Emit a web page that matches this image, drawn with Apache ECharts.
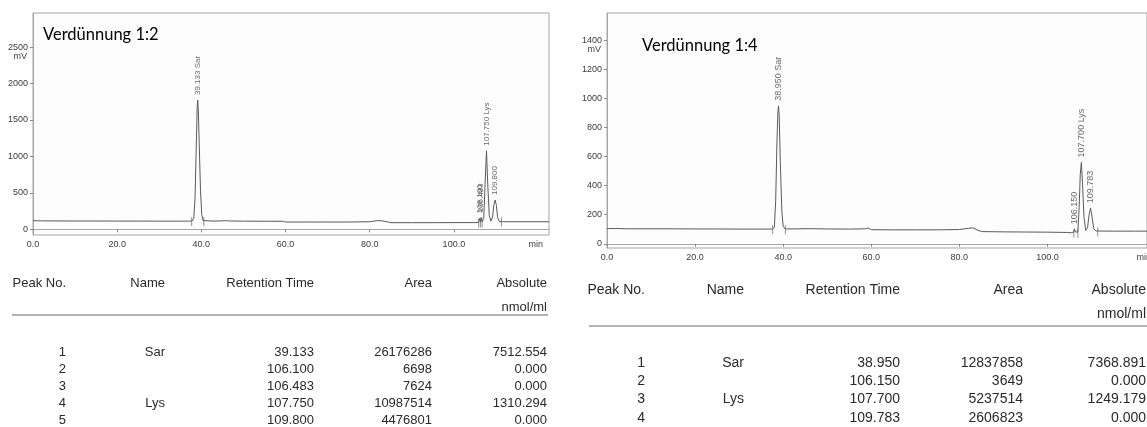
<!DOCTYPE html>
<html>
<head>
<meta charset="utf-8">
<script src="https://cdn.jsdelivr.net/npm/echarts@6/dist/echarts.min.js"></script>
<style>
html, body { margin: 0; padding: 0; background: #fff; overflow: hidden; }
#c { width: 1147px; height: 427px; }
</style>
</head>
<body>
<div id="c"></div>
<script>
// ---- Chromatogram traces: [time (min), signal (mV)] ----
const trace12 = [
  [0,118],[1,117],[2,116],[5,115],[10,114],[15,114],[20,113],[25,113],[30,112],[35,112],[37,112],
  [37.8,114],[38.2,150],[38.5,430],[38.8,1160],[39.0,1660],[39.133,1773],[39.3,1610],[39.5,1160],
  [39.8,530],[40.1,200],[40.4,120],[40.8,113],[43,113],[46,118],[47,114],[50,112],[55,111],[59.5,110],
  [60,100],[65,100],[70,100],[75,100],[80,104],[82,120],[83,116],[84.5,98],[85,91],[90,91],[95,91],
  [100,92],[105,92],[105.8,94],[106.1,150],[106.3,100],[106.483,165],[106.7,104],[107.1,150],[107.4,610],
  [107.75,1078],[108.05,610],[108.4,190],[108.8,112],[109.2,170],[109.5,340],[109.8,402],[110.1,330],
  [110.4,160],[110.8,108],[111.5,104],[115,104],[120,104],[122.6,104]
];
const trace14 = [
  [0,104],[2,105],[5,103],[10,103],[15,103],[20,102],[25,102],[30,101],[35,101],[37.5,101],
  [38.0,112],[38.3,300],[38.6,720],[38.8,910],[38.95,949],[39.1,880],[39.35,560],[39.7,220],[40.0,120],
  [40.4,103],[41,102],[46,104],[50,102],[55,101],[58.5,103],[59.3,108],[60,97],[65,96],[70,96],[75,96],
  [80,98],[82,106],[83,110],[84,96],[85,84],[90,82],[95,81],[100,80],[104.5,78],[105.5,76],[106.0,82],
  [106.15,100],[106.4,80],[106.9,82],[107.2,250],[107.45,480],[107.7,560],[107.95,420],[108.3,180],
  [108.7,92],[109.1,110],[109.45,200],[109.783,245],[110.1,190],[110.5,105],[111,88],[115,87],[120,87],[122.6,87]
];

// ---- Integration markers (peak start / end) ----
const marks12 = [[37.7,108],[40.6,108],[105.9,86],[106.3,86],[106.7,86],[111.3,100]];
const marks14 = [[37.6,96],[40.5,96],[106.0,72],[106.9,72],[111.4,82]];

// ---- Peak tables ----
const peakNo12 = ['1','2','3','4','5'];
const name12   = ['Sar','','','Lys',''];
const rt12     = ['39.133','106.100','106.483','107.750','109.800'];
const area12   = ['26176286','6698','7624','10987514','4476801'];
const abs12    = ['7512.554','0.000','0.000','1310.294','0.000'];

const peakNo14 = ['1','2','3','4'];
const name14   = ['Sar','','Lys',''];
const rt14     = ['38.950','106.150','107.700','109.783'];
const area14   = ['12837858','3649','5237514','2606823'];
const abs14    = ['7368.891','0.000','1249.179','0.000'];

// ---- Axis ticks ----
const xTicks   = [0,20,40,60,80,100];
const yTicks12 = [0,500,1000,1500,2000,2500];
const yTicks14 = [0,200,400,600,800,1000,1200,1400];

const headers = ['Peak No.','Name','Retention Time','Area','Absolute'];
const unitText = 'nmol/ml';

// Peak apex labels: retention time (+ name) placed on the trace value at that time
function apexPoints(trace, rts, names) {
  return rts.map((r, i) => {
    const t = parseFloat(r);
    const p = trace.find(d => d[0] === t);
    return [t, p ? p[1] : 0, names[i] ? r + ' ' + names[i] : r];
  });
}

const chart = echarts.init(document.getElementById('c'), null, { renderer: 'canvas' });

const axisFont = { fontFamily: 'Liberation Sans', fontSize: 9, color: '#3a3a3a' };
const frameColor = '#a6a6a6';

function xAxisCfg(gi) {
  return {
    type: 'value', gridIndex: gi, min: 0, max: 122.6,
    axisLine: { show: true, lineStyle: { color: frameColor } },
    axisTick: { show: true, length: 3, customValues: xTicks, lineStyle: { color: '#888' } },
    axisLabel: Object.assign({ customValues: xTicks, margin: 5, formatter: v => v.toFixed(1) }, axisFont),
    splitLine: { show: false }
  };
}
function yAxisCfg(gi, min, max, ticks) {
  return {
    type: 'value', gridIndex: gi, min: min, max: max,
    axisLine: { show: true, lineStyle: { color: frameColor } },
    axisTick: { show: true, length: 3, customValues: ticks, lineStyle: { color: '#888' } },
    axisLabel: Object.assign({ customValues: ticks, margin: 5, formatter: v => String(v) }, axisFont),
    splitLine: { show: false }
  };
}

function traceSeries(gi, data) {
  return {
    type: 'line', xAxisIndex: gi, yAxisIndex: gi, data: data, showSymbol: false, smooth: false,
    lineStyle: { color: '#5a5a5a', width: 1 }, silent: true, animation: false
  };
}
function markSeries(gi, data) {
  return {
    type: 'scatter', xAxisIndex: gi, yAxisIndex: gi, data: data, symbol: 'rect',
    symbolSize: [1, 9], itemStyle: { color: '#777' }, silent: true, animation: false
  };
}
function labelSeries(gi, data, fontSize) {
  return {
    type: 'scatter', xAxisIndex: gi, yAxisIndex: gi, data: data, symbolSize: 0, silent: true,
    animation: false,
    label: {
      show: true, position: 'top', distance: 5, rotate: 90, align: 'left', verticalAlign: 'middle',
      formatter: p => p.data[2], fontFamily: 'Liberation Sans', fontSize: fontSize, color: '#444'
    }
  };
}

// Table drawn as graphic text elements
function tableGraphics(L, rows) {
  const els = [];
  const font = L.fontSize + 'px "Liberation Sans", Arial, sans-serif';
  const colX = L.colX;
  headers.forEach((h, i) => {
    els.push({ type: 'text', x: colX[i], y: L.headerY,
      style: { text: h, font: font, fill: '#2a2a2a', align: 'right', verticalAlign: 'middle' } });
  });
  els.push({ type: 'text', x: colX[4], y: L.unitY,
    style: { text: unitText, font: font, fill: '#2a2a2a', align: 'right', verticalAlign: 'middle' } });
  els.push({ type: 'line', shape: { x1: L.lineX0, y1: L.lineY, x2: L.lineX1, y2: L.lineY },
    style: { stroke: '#b4b4b4', lineWidth: 2 } });
  rows[0].forEach((_, r) => {
    rows.forEach((col, c) => {
      if (!col[r]) return;
      els.push({ type: 'text', x: colX[c], y: L.rowY0 + r * L.rowStep,
        style: { text: col[r], font: font, fill: '#2a2a2a', align: 'right', verticalAlign: 'middle' } });
    });
  });
  return els;
}

const option = {
  animation: false,
  backgroundColor: '#ffffff',
  title: [
    { text: 'Verdünnung 1:2', left: 38, top: 21,
      textStyle: { fontFamily: 'Lato', fontSize: 16.5, fontWeight: 'normal', color: '#000' } },
    { text: 'Verdünnung 1:4', left: 637, top: 32,
      textStyle: { fontFamily: 'Lato', fontSize: 16.5, fontWeight: 'normal', color: '#000' } }
  ],
  grid: [
    { left: 33, top: 13, width: 516, height: 222, show: true, borderColor: frameColor, borderWidth: 1, backgroundColor: '#fdfdfd' },
    { left: 607, top: 13, width: 550, height: 235, show: true, borderColor: frameColor, borderWidth: 1, backgroundColor: '#fdfdfd' }
  ],
  xAxis: [xAxisCfg(0), xAxisCfg(1)],
  yAxis: [yAxisCfg(0, -78, 2967, yTicks12), yAxisCfg(1, -29, 1588, yTicks14)],
  series: [
    traceSeries(0, trace12), markSeries(0, marks12), labelSeries(0, apexPoints(trace12, rt12, name12), 8),
    traceSeries(1, trace14), markSeries(1, marks14), labelSeries(1, apexPoints(trace14, rt14, name14), 9)
  ]
};
chart.setOption(option);

// Unit labels positioned from the axis scales
const g = [];
[[0, 2500, 6], [1, 1400, -4]].forEach(([gi, top, inset]) => {
  const p = chart.convertToPixel({ gridIndex: gi }, [0, top]);
  g.push({ type: 'text', x: p[0] - 6, y: p[1] + 9,
    style: { text: 'mV', font: '9px "Liberation Sans"', fill: '#3a3a3a', align: 'right', verticalAlign: 'middle' } });
  const b = chart.getModel().getComponent('grid', gi).coordinateSystem.getRect();
  g.push({ type: 'text', x: b.x + b.width - inset, y: b.y + b.height + 10,
    style: { text: 'min', font: '9px "Liberation Sans"', fill: '#3a3a3a', align: 'right', verticalAlign: 'middle' } });
});

const table12 = tableGraphics({
  colX: [66, 165, 314, 432, 547], headerY: 283, unitY: 307, lineY: 315, lineX0: 12, lineX1: 548,
  rowY0: 352, rowStep: 17, fontSize: 13
}, [peakNo12, name12, rt12, area12, abs12]);

const table14 = tableGraphics({
  colX: [645, 744, 900, 1023, 1146], headerY: 290, unitY: 314, lineY: 326, lineX0: 589, lineX1: 1147,
  rowY0: 363, rowStep: 18.3, fontSize: 14
}, [peakNo14, name14, rt14, area14, abs14]);

chart.setOption({ graphic: { elements: g.concat(table12, table14) } });
</script>
</body>
</html>
